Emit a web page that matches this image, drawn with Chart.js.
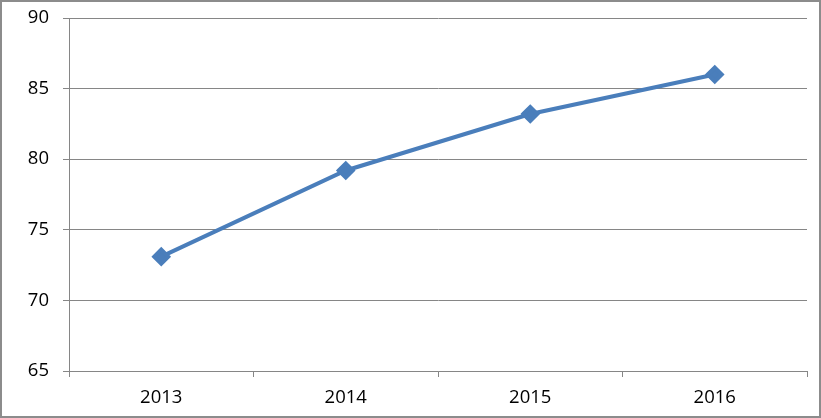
<!DOCTYPE html>
<html>
<head>
<meta charset="utf-8">
<script src="https://cdn.jsdelivr.net/npm/chart.js"></script>
<style>
  html, body { margin: 0; padding: 0; background: #fff; }
  #wrap { width: 821px; height: 418px; position: relative; }
</style>
</head>
<body>
<div id="wrap"><canvas id="chart" width="821" height="418"></canvas></div>
<script>
// Jahre und Werte
const years = ['2013', '2014', '2015', '2016'];
const values = [73.1, 79.2, 83.2, 86.0];
const yMin = 65;
const yMax = 90;
const yStep = 5;

const axisGray = '#868686';
const lineBlue = '#4a7ebb';

// Rahmen um das ganze Bild
const outerBorder = {
    id: 'outerBorder',
    afterDraw(chart) {
        const ctx = chart.ctx;
        ctx.save();
        ctx.strokeStyle = '#8c8c8c';
        ctx.lineWidth = 2;
        ctx.strokeRect(1, 1, chart.width - 2, chart.height - 2);
        ctx.restore();
    }
};

const ctx = document.getElementById('chart').getContext('2d');
new Chart(ctx, {
    type: 'line',
    data: {
        labels: years,
        datasets: [{
            data: values,
            borderColor: lineBlue,
            backgroundColor: lineBlue,
            borderWidth: 4,
            pointStyle: 'rectRot',
            pointRadius: 7,
            pointHoverRadius: 7,
            tension: 0,
            fill: false
        }]
    },
    options: {
        responsive: false,
        animation: false,
        layout: { padding: { top: 18, right: 14, left: 0, bottom: 0 } },
        plugins: {
            legend: { display: false },
            tooltip: { enabled: false }
        },
        scales: {
            x: {
                offset: true,
                grid: {
                    offset: true,
                    drawOnChartArea: false,
                    color: axisGray,
                    tickLength: 6
                },
                border: { color: axisGray },
                ticks: {
                    color: '#000',
                    padding: 10,
                    font: { family: 'Open Sans', size: 18.5 }
                },
                afterFit(scale) {
                    scale.height = 47;
                    scale.paddingLeft = 0;
                    scale.paddingRight = 0;
                }
            },
            y: {
                min: yMin,
                max: yMax,
                ticks: {
                    stepSize: yStep,
                    color: '#000',
                    padding: 14,
                    font: { family: 'Open Sans', size: 18.5 }
                },
                grid: {
                    color: axisGray,
                    tickLength: 6
                },
                border: { color: axisGray },
                afterFit(scale) {
                    scale.width = 69;
                    scale.paddingTop = 0;
                    scale.paddingBottom = 0;
                }
            }
        }
    },
    plugins: [outerBorder]
});
</script>
</body>
</html>
